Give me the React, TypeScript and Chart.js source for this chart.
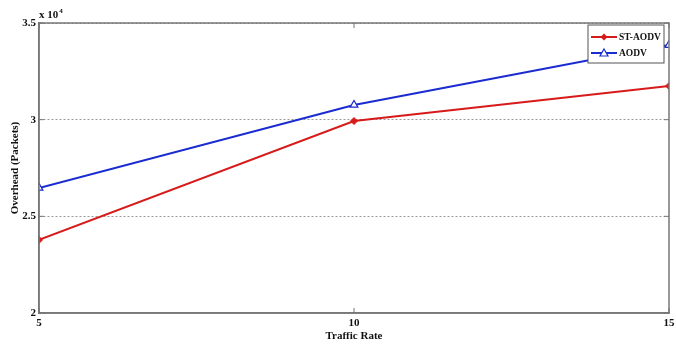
import React, { useEffect, useRef } from "react";
import { Chart, registerables } from "chart.js";

Chart.register(...registerables);

const trafficRates = [5, 10, 15];
const stAodv = [23780, 29930, 31740];
const aodv = [26470, 30760, 33860];
const yTicks = [20000, 25000, 30000, 35000];
const xTicks = [5, 10, 15];

const FONT = "'Liberation Serif', 'Times New Roman', serif";

const boxPlugin = {
  id: "matlabBox",
  afterDraw(chart: any) {
    const { ctx, chartArea } = chart;
    const { left, right, top, bottom } = chartArea;
    const xs = chart.scales.x;
    const ys = chart.scales.y;
    ctx.save();
    ctx.strokeStyle = "#777";
    ctx.lineWidth = 1.5;
    ctx.strokeRect(left, top, right - left, bottom - top);
    // inward tick marks
    ctx.lineWidth = 1;
    ctx.beginPath();
    xTicks.forEach((v) => {
      const px = xs.getPixelForValue(v);
      ctx.moveTo(px, bottom);
      ctx.lineTo(px, bottom - 5);
      ctx.moveTo(px, top);
      ctx.lineTo(px, top + 5);
    });
    yTicks.forEach((v) => {
      const py = ys.getPixelForValue(v);
      ctx.moveTo(left, py);
      ctx.lineTo(left + 5, py);
      ctx.moveTo(right, py);
      ctx.lineTo(right - 5, py);
    });
    ctx.stroke();

    // exponent label
    ctx.fillStyle = "#111";
    ctx.font = `bold 11px ${FONT}`;
    ctx.textBaseline = "alphabetic";
    ctx.textAlign = "left";
    ctx.fillText("x 10", left, top - 5);
    const w = ctx.measureText("x 10").width;
    ctx.font = `bold 7px ${FONT}`;
    ctx.fillText("4", left + w + 1, top - 10);

    // legend
    const lx = 588, ly = 25, lw = 76, lh = 38;
    ctx.fillStyle = "#fff";
    ctx.fillRect(lx, ly, lw, lh);
    ctx.strokeStyle = "#555";
    ctx.lineWidth = 1;
    ctx.strokeRect(lx, ly, lw, lh);
    chart.data.datasets.forEach((ds: any, i: number) => {
      const cy = ly + 12 + i * 16;
      ctx.strokeStyle = ds.borderColor;
      ctx.lineWidth = 2;
      ctx.beginPath();
      ctx.moveTo(lx + 3, cy);
      ctx.lineTo(lx + 29, cy);
      ctx.stroke();
      const mx = lx + 16;
      ctx.lineWidth = 1.2;
      if (ds.pointStyle === "rectRot") {
        ctx.fillStyle = ds.borderColor;
        ctx.beginPath();
        ctx.moveTo(mx, cy - 3.5);
        ctx.lineTo(mx + 3.5, cy);
        ctx.lineTo(mx, cy + 3.5);
        ctx.lineTo(mx - 3.5, cy);
        ctx.closePath();
        ctx.fill();
      } else {
        ctx.fillStyle = "#fff";
        ctx.beginPath();
        ctx.moveTo(mx, cy - 4);
        ctx.lineTo(mx + 4, cy + 3);
        ctx.lineTo(mx - 4, cy + 3);
        ctx.closePath();
        ctx.fill();
        ctx.stroke();
      }
      ctx.fillStyle = "#111";
      ctx.font = `bold 9.5px ${FONT}`;
      ctx.textBaseline = "middle";
      ctx.fillText(ds.label, lx + 31, cy + 0.5);
    });
    ctx.restore();
  },
};

export default function App() {
  const ref = useRef<HTMLCanvasElement>(null);
  useEffect(() => {
    document.body.style.margin = "0";
    const chart = new Chart(ref.current!, {
      type: "line",
      data: {
        datasets: [
          {
            label: "ST-AODV",
            data: trafficRates.map((x, i) => ({ x, y: stAodv[i] })),
            borderColor: "#d71a1a",
            backgroundColor: "#d71a1a",
            borderWidth: 2,
            pointStyle: "rectRot",
            pointRadius: 3.5,
            pointBorderWidth: 1,
          },
          {
            label: "AODV",
            data: trafficRates.map((x, i) => ({ x, y: aodv[i] })),
            borderColor: "#1a2bd1",
            backgroundColor: "#ffffff",
            borderWidth: 2,
            pointStyle: "triangle",
            pointRadius: 4.5,
            pointBorderWidth: 1.2,
          },
        ],
      },
      options: {
        animation: false,
        responsive: false,
        layout: { padding: { top: 23, right: 7, left: 0, bottom: 0 } },
        plugins: { legend: { display: false }, tooltip: { enabled: false } },
        scales: {
          x: {
            type: "linear",
            min: 5,
            max: 15,
            afterBuildTicks: (s: any) => {
              s.ticks = xTicks.map((v) => ({ value: v }));
            },
            afterFit: (s: any) => {
              s.height = 34;
              s.paddingLeft = 0;
              s.paddingRight = 0;
            },
            grid: { display: false, drawTicks: false },
            border: { color: "#777", width: 1.5 },
            ticks: {
              color: "#111",
              font: { family: FONT, size: 11, weight: "bold" },
              padding: 4,
              maxRotation: 0,
            },
            title: {
              display: true,
              text: "Traffic Rate",
              color: "#111",
              font: { family: FONT, size: 11, weight: "bold" },
              padding: { top: 1, bottom: 4 },
            },
          },
          y: {
            min: 20000,
            max: 35000,
            afterBuildTicks: (s: any) => {
              s.ticks = yTicks.map((v) => ({ value: v }));
            },
            afterFit: (s: any) => {
              s.width = 39;
            },
            grid: {
              color: "#999",
              lineWidth: 1,
              drawTicks: false,
            },
            border: { color: "#777", width: 1.5, dash: [2, 2] },
            ticks: {
              color: "#111",
              font: { family: FONT, size: 11, weight: "bold" },
              padding: 3,
              callback: (v: any) => String(Number(v) / 10000),
            },
            title: {
              display: true,
              text: "Overhead (Packets)",
              color: "#111",
              font: { family: FONT, size: 11, weight: "bold" },
              padding: { top: 9, bottom: 2 },
            },
          },
        },
      },
      plugins: [boxPlugin],
    });
    return () => chart.destroy();
  }, []);
  return (
    <div style={{ position: "absolute", left: 0, top: 0, width: 676, height: 347 }}>
      <canvas ref={ref} width={676} height={347} style={{ width: 676, height: 347 }} />
    </div>
  );
}
